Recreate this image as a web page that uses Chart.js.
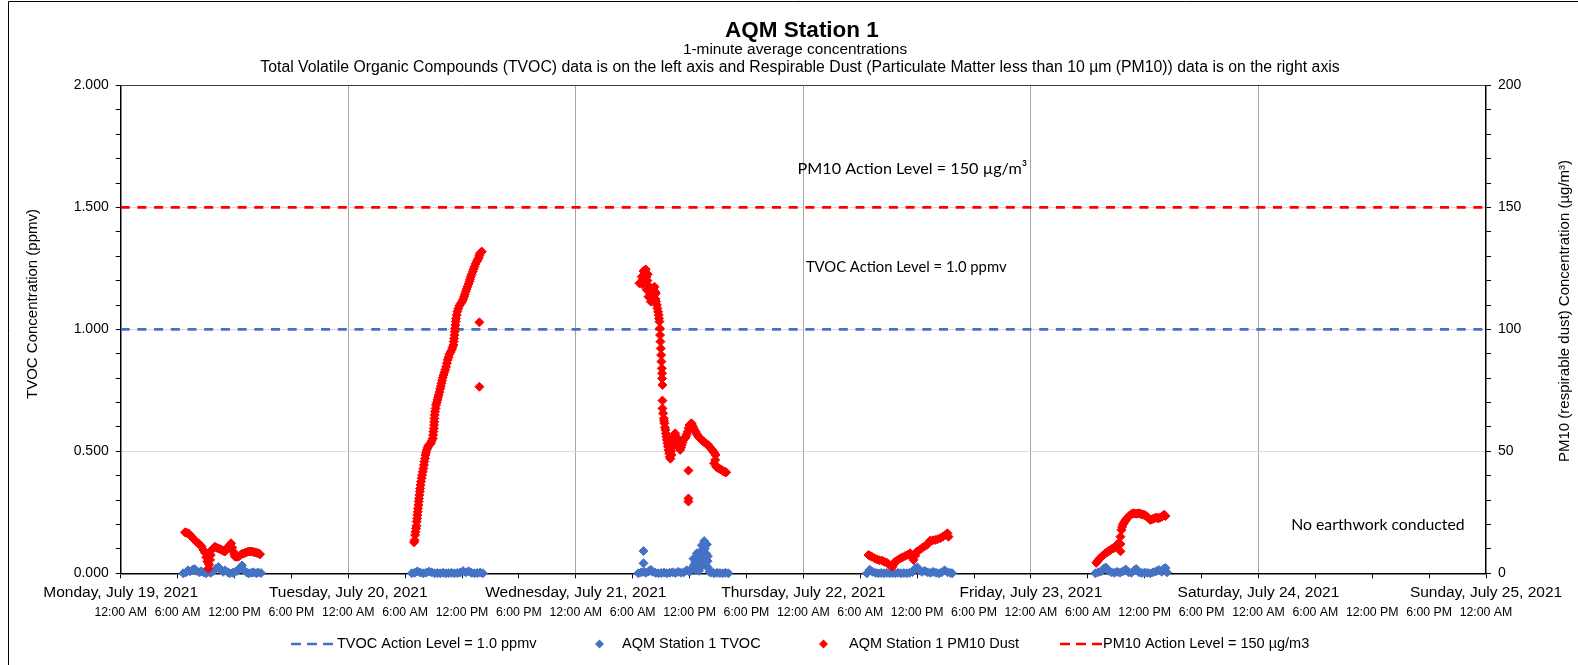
<!DOCTYPE html>
<html>
<head>
<meta charset="utf-8">
<title>AQM Station 1</title>
<script src="https://cdn.jsdelivr.net/npm/chart.js@4.4.1/dist/chart.umd.min.js"></script>
<style>
    html, body { margin: 0; padding: 0; background: #fff; }
    #wrap { position: relative; width: 1578px; height: 665px; }
</style>
</head>
<body>
<div id="wrap"><canvas id="aqmChart" width="1578" height="665"></canvas></div>
<script>
// x values are hours since Monday, July 19, 2021 12:00 AM
const dayLabels = ["Monday, July 19, 2021", "Tuesday, July 20, 2021", "Wednesday, July 21, 2021",
    "Thursday, July 22, 2021", "Friday, July 23, 2021", "Saturday, July 24, 2021", "Sunday, July 25, 2021"];
const hourLabels = ["12:00 AM", "6:00 AM", "12:00 PM", "6:00 PM"];

const tvocActionLevel = 1.0;   // ppmv, left axis
const pm10ActionLevel = 150;   // ug/m3, right axis

const tvocHours = [
    6.6, 6.9, 7.1, 7.3, 7.6, 7.8, 8.0, 8.3, 8.5, 8.8, 9.0, 9.3, 9.5, 9.8, 10.0, 10.3, 10.5, 10.8, 11.0, 11.3, 11.5, 11.8,
    12.0, 12.3, 12.5, 12.8, 13.0, 13.3, 13.5, 13.8, 14.0, 14.3, 14.5, 14.8,
    30.7, 31.0, 31.3, 31.6, 31.9, 32.2, 32.5, 32.8, 33.1, 33.4, 33.7, 34.0, 34.3, 34.6, 34.9, 35.2, 35.5, 35.8, 36.1,
    36.4, 36.7, 37.0, 37.3, 37.6, 37.9, 38.2,
    54.6, 54.9, 55.14, 55.14, 55.2, 55.4, 55.7, 55.9, 56.1, 56.4, 56.7, 57.0, 57.3, 57.6, 57.9, 58.2, 58.5, 58.8, 59.1,
    59.4, 59.7, 60.0, 60.2, 60.41, 60.5, 60.6, 60.6, 60.77, 60.9, 61.0, 61.0, 61.12, 61.2, 61.3, 61.3, 61.4, 61.45,
    61.54, 61.6, 61.6, 61.7, 61.75, 61.8, 61.82, 61.9, 61.93, 62.0, 62.1, 62.3, 62.6, 62.9, 63.2, 63.5, 63.8, 64.1,
    78.7, 79.0, 79.3, 79.6, 79.9, 80.2, 80.5, 80.8, 81.1, 81.4, 81.7, 82.0, 82.3, 82.6, 82.9, 83.2, 83.5, 83.8, 84.0,
    84.2, 84.5, 84.8, 85.1, 85.4, 85.7, 86.0, 86.3, 86.6, 86.9, 87.2, 87.5, 87.7,
    102.8, 103.1, 103.4, 103.7, 103.9, 104.2, 104.5, 104.8, 105.1, 105.4, 105.7, 106.0, 106.3, 106.6, 106.9, 107.1,
    107.4, 107.7, 108.0, 108.3, 108.6, 108.9, 109.2, 109.5, 109.8, 110.0, 110.2, 110.35
];
const tvocValues = [
    0, 0.004, 0.012, 0.008, 0.015, 0.017, 0.01, 0.004, 0.008, 0.003, 0, 0.006, 0.002, 0.01, 0.018, 0.026, 0.015, 0.006,
    0.012, 0.004, 0, 0.002, 0.004, 0.01, 0.02, 0.032, 0.012, 0.003, 0, 0.002, 0.004, 0, 0.003, 0.001,
    0, 0.002, 0.008, 0.003, 0, 0.002, 0.007, 0.004, 0, 0.001, 0, 0.002, 0, 0.001, 0.002, 0, 0.001, 0.003, 0.009,
    0.004, 0.008, 0.002, 0, 0.001, 0.003, 0,
    0, 0.004, 0.091, 0.041, 0.006, 0.002, 0.008, 0.015, 0.006, 0.002, 0, 0.001, 0.003, 0, 0.002, 0.004, 0.001, 0.006,
    0.002, 0.004, 0.012, 0.006, 0.02, 0.06, 0.035, 0.045, 0.015, 0.082, 0.05, 0.03, 0.01, 0.088, 0.06, 0.115, 0.03,
    0.075, 0.045, 0.132, 0.1, 0.04, 0.12, 0.08, 0.03, 0.118, 0.05, 0.07, 0.02, 0.005, 0.003, 0, 0.002, 0.001, 0, 0.002, 0,
    0, 0.015, 0.006, 0.002, 0, 0.001, 0, 0.002, 0, 0.001, 0, 0.002, 0, 0.001, 0, 0.002, 0.005, 0.02, 0.025,
    0.012, 0.006, 0.01, 0.004, 0.002, 0.006, 0.002, 0, 0.004, 0.012, 0.004, 0.002, 0,
    0, 0.004, 0.008, 0.02, 0.024, 0.01, 0.004, 0.002, 0.006, 0.002, 0.008, 0.016, 0.004, 0.002, 0.012, 0.018,
    0.004, 0.001, 0.003, 0.002, 0, 0.004, 0.008, 0.014, 0.006, 0.018, 0.022, 0.004
];

const pm10Hours = [
    // Monday
    6.78, 7.13, 7.49, 7.84, 8.19, 8.55, 8.89, 9.14, 9.24, 9.42, 9.60, 9.95, 10.30, 10.66, 11.00, 11.35, 11.64, 11.88,
    12.06, 12.41, 12.77, 13.11, 13.46, 13.82, 14.17, 14.52, 14.70,
    6.95, 7.30, 7.65, 8.00, 8.37, 8.72, 9.02, 9.33, 9.50, 9.78, 10.12, 10.48, 10.83, 11.18, 11.50, 11.76, 11.97,
    12.24, 12.60, 12.94, 13.28, 13.64, 14.00, 14.35, 14.60,
    // Tuesday
    30.94, 31.05, 31.15, 31.22, 31.29, 31.36, 31.43, 31.50, 31.58, 31.68, 31.79, 31.93, 32.03, 32.14, 32.28, 32.45,
    32.70, 32.91, 32.98, 33.05, 33.09, 33.16, 33.26, 33.40, 33.54, 33.69, 33.83, 33.97, 34.14, 34.32, 34.49, 34.67,
    34.92, 35.09, 35.16, 35.23, 35.30, 35.37, 35.51, 35.72, 36.01, 36.22, 36.39, 36.57, 36.78, 36.92, 37.13, 37.31,
    37.55, 37.76, 37.90, 38.08, 37.83, 37.83,
    31.00, 31.10, 31.20, 31.27, 31.33, 31.40, 31.47, 31.55, 31.63, 31.74, 31.86, 31.98, 32.09, 32.20, 32.36, 32.58,
    32.80, 32.95, 33.02, 33.07, 33.12, 33.21, 33.33, 33.47, 33.61, 33.76, 33.90, 34.05, 34.23, 34.40, 34.58, 34.80,
    35.00, 35.12, 35.20, 35.27, 35.34, 35.44, 35.60, 35.86, 36.12, 36.30, 36.48, 36.68, 36.85, 37.02, 37.22, 37.43,
    37.65, 37.83, 38.00,
    // Wednesday
    54.71, 54.96, 55.14, 55.38, 55.59, 55.31, 55.49, 55.66, 55.91, 56.12, 56.30, 56.44, 56.47, 56.61, 56.75, 56.82,
    56.86, 56.89, 56.93, 56.96, 57.00, 57.03, 57.07, 57.10, 57.10, 57.14, 57.14, 57.14, 57.21, 57.28, 57.35, 57.46,
    57.56, 57.67, 57.77, 57.91, 58.09, 58.20, 58.30, 58.48, 58.65, 58.83, 59.00, 59.18, 59.36, 59.60, 59.81, 59.99,
    60.20, 60.41, 60.62, 60.87, 61.11, 61.40, 61.68, 61.96, 62.24, 62.52, 62.73, 62.59, 62.80, 63.08, 63.37, 63.65,
    63.86, 59.88, 59.88, 59.88,
    55.00, 55.10, 55.20, 55.30, 55.45, 55.55, 55.65, 55.75, 55.85, 56.00, 56.05, 56.20, 56.25, 56.35, 56.40, 56.55,
    56.68, 56.78,
    57.30, 57.40, 57.50, 57.60, 57.72, 57.85, 57.98, 58.05, 58.15, 58.25, 58.40, 58.57, 58.74, 58.92, 59.10, 59.27,
    59.48, 59.70, 59.90, 60.10, 60.30, 60.50, 60.75, 61.00, 61.25, 61.55, 61.82, 62.10, 62.38, 62.63, 62.70, 62.94,
    63.22, 63.50, 63.75,
    // Thursday
    78.87, 79.23, 79.76, 80.28, 80.81, 81.23, 81.40, 81.69, 82.22, 82.74, 83.27, 83.62, 83.97, 84.50, 85.03, 85.38,
    85.91, 86.44, 86.96, 87.20, 87.31,
    79.05, 79.50, 80.00, 80.55, 81.00, 81.55, 81.95, 82.48, 83.00, 83.45, 83.80, 84.25, 84.75, 85.20, 85.65, 86.17, 86.70,
    // Friday
    102.9, 103.2, 103.5, 103.85, 104.1, 104.38, 104.65, 104.9, 105.1, 105.3, 105.45, 105.45, 105.55, 105.7, 105.9,
    106.1, 106.3, 106.5, 106.8, 107.1, 107.4, 107.7, 108.0, 108.3, 108.6, 108.9, 109.2, 109.5, 109.8, 110.05, 110.2,
    103.05, 103.35, 103.7, 104.0, 104.25, 104.5, 104.8, 105.0, 105.2, 105.45, 105.62, 105.8, 106.0, 106.2, 106.4,
    106.65, 106.95, 107.25, 107.55, 107.85, 108.15, 108.45, 108.75, 109.05, 109.35, 109.65, 109.95, 110.12
];
const pm10Values = [
    // Monday
    16.8, 16.4, 15.0, 13.4, 12.3, 10.9, 8.4, 4.8, 2.0, 5.5, 9.6, 10.9, 10.2, 9.6, 8.9, 10.9, 12.3, 8.9,
    6.8, 6.8, 7.9, 8.4, 8.9, 8.9, 8.6, 8.2, 7.8,
    16.6, 15.7, 14.2, 12.9, 11.6, 9.6, 6.6, 3.6, 7.5, 10.3, 10.5, 9.9, 9.2, 9.9, 11.6, 10.6, 7.8,
    6.8, 7.4, 8.1, 8.6, 8.9, 8.7, 8.4, 8.0,
    // Tuesday
    12.7, 15.7, 18.4, 21.2, 23.9, 26.6, 29.4, 32.1, 34.8, 37.6, 40.3, 43.0, 45.8, 48.5, 50.6, 52.3,
    53.3, 55.3, 58.1, 60.8, 63.5, 66.3, 69.0, 71.1, 73.1, 75.6, 77.9, 80.2, 82.4, 84.7, 87.5, 89.8,
    91.6, 93.6, 96.3, 99.1, 101.8, 104.5, 107.3, 109.7, 111.4, 113.4, 115.5, 117.5, 119.6, 121.6, 123.7, 125.7,
    127.8, 129.4, 131.2, 131.9, 102.9, 76.5,
    13.5, 17.0, 19.5, 22.5, 25.2, 28.0, 30.7, 33.5, 36.2, 39.0, 41.6, 44.4, 47.1, 49.5, 51.5, 52.8,
    54.2, 56.7, 59.4, 62.1, 64.9, 67.6, 70.0, 72.1, 74.3, 76.7, 79.0, 81.3, 83.5, 86.1, 88.6, 90.7,
    92.6, 95.0, 97.7, 100.4, 103.2, 105.9, 108.5, 110.6, 112.4, 114.4, 116.5, 118.6, 120.6, 122.6, 124.7, 126.8,
    128.6, 130.3, 131.5,
    // Wednesday
    118.9, 121.6, 123.9, 124.6, 122.6, 119.6, 116.2, 113.4, 111.4, 114.8, 117.5, 114.8, 111.4, 108.6, 105.9, 103.2,
    100.4, 97.7, 95.0, 92.2, 89.5, 86.8, 84.0, 82.0, 79.9, 77.2, 70.8, 67.6, 65.6, 63.5, 61.5, 58.8,
    56.0, 53.3, 50.6, 47.8, 48.5, 51.9, 56.0, 57.4, 55.3, 52.6, 50.6, 52.6, 54.7, 56.0, 58.1, 60.8,
    61.5, 59.7, 58.1, 56.4, 55.3, 54.2, 53.3, 52.6, 51.2, 49.9, 48.5, 45.1, 43.7, 43.0, 42.4, 41.7,
    41.4, 42.1, 30.7, 29.4,
    118.5, 120.5, 122.0, 123.0, 121.5, 120.0, 118.0, 116.5, 114.5, 113.0, 116.5, 117.0, 114.0, 115.5, 112.5, 110.0,
    107.2, 104.5,
    62.5, 59.8, 57.3, 54.7, 52.0, 49.2, 47.0, 50.0, 53.5, 54.5, 56.5, 56.2, 54.0, 51.5, 51.6, 53.7,
    55.3, 57.0, 59.5, 61.2, 60.6, 58.9, 57.2, 55.8, 54.7, 53.8, 52.9, 51.9, 50.6, 49.2, 46.5, 43.3,
    42.7, 42.0, 41.5,
    // Thursday
    7.5, 6.8, 5.7, 5.2, 4.3, 3.1, 2.7, 4.8, 6.1, 7.1, 8.2, 5.5, 8.9, 10.3, 11.6, 13.4,
    13.7, 14.4, 15.7, 16.4, 15.0,
    7.1, 6.2, 5.4, 4.7, 3.7, 3.8, 5.4, 6.6, 7.6, 6.8, 7.2, 9.6, 11.0, 12.5, 13.5, 14.0, 15.0,
    // Friday
    4.3, 5.8, 7.0, 8.2, 8.9, 9.6, 10.2, 10.9, 11.8, 12.5, 9.0, 15.0, 17.8, 20.0, 21.3,
    22.3, 23.2, 24.0, 24.6, 24.4, 24.6, 24.2, 23.9, 23.0, 21.9, 22.4, 22.8, 22.6, 23.2, 24.0, 23.5,
    5.0, 6.4, 7.6, 8.5, 9.2, 9.9, 10.5, 11.3, 12.1, 12.0, 19.0, 20.6, 21.8, 22.8, 23.6,
    24.3, 24.5, 24.5, 24.4, 24.0, 23.5, 22.4, 22.1, 22.6, 22.7, 22.9, 23.6, 23.8
];

// text boxes placed in data units: hours and ug/m3 on the right axis
const noteTexts = ["PM10 Action Level = 150 µg/m³", "TVOC Action Level = 1.0 ppmv", "No earthwork conducted"];
const noteHours = [83.5, 82.85, 132.6];
const notePm10 = [165.8, 125.6, 19.8];
const noteFontSizes = [16.2, 14.8, 15.8];

const BLUE = "#4472C4";
const RED = "#FF0000";
const ARIAL = "'Liberation Sans', Arial, sans-serif";
const CALIBRI = "Lato, 'Open Sans', sans-serif";

const toPoints = (xs, ys) => xs.map((x, i) => ({ x, y: ys[i] }));
const isMultiple = (v, step) => Math.abs(v / step - Math.round(v / step)) < 1e-6;

const overlayPlugin = {
    id: "overlay",
    afterDraw(chart) {
        const ctx = chart.ctx;
        const xScale = chart.scales.x;
        const pmScale = chart.scales.y1;
        ctx.save();
        // outer frame
        ctx.strokeStyle = "#000";
        ctx.lineWidth = 1;
        ctx.beginPath();
        ctx.moveTo(8.5, 665);
        ctx.lineTo(8.5, 1.5);
        ctx.lineTo(1578, 1.5);
        ctx.stroke();

        // titles
        ctx.fillStyle = "#000";
        ctx.textAlign = "center";
        ctx.textBaseline = "middle";
        ctx.font = "bold 22.5px " + ARIAL;
        ctx.fillText("AQM Station 1", 802, 30.5);
        ctx.font = "15.4px " + ARIAL;
        ctx.fillText("1-minute average concentrations", 795, 50);
        ctx.font = "15.8px " + ARIAL;
        ctx.fillText("Total Volatile Organic Compounds (TVOC) data is on the left axis and Respirable Dust (Particulate Matter less than 10 µm (PM10)) data is on the right axis", 800, 68);

        // axis titles
        ctx.font = "15px " + ARIAL;
        ctx.save();
        ctx.translate(33, 304);
        ctx.rotate(-Math.PI / 2);
        ctx.fillText("TVOC Concentration (ppmv)", 0, 0);
        ctx.restore();
        ctx.save();
        ctx.translate(1565, 311);
        ctx.rotate(-Math.PI / 2);
        ctx.fillText("PM10 (respirable dust) Concentration (µg/m³)", 0, 0);
        ctx.restore();

        // text boxes
        noteTexts.forEach((t, i) => {
            ctx.font = noteFontSizes[i] + "px " + CALIBRI;
            ctx.fillText(t, xScale.getPixelForValue(noteHours[i]), pmScale.getPixelForValue(notePm10[i]));
        });

        // legend
        const ds = chart.data.datasets;
        const legendY = 644;
        ctx.font = "14.5px " + ARIAL;
        ctx.textAlign = "left";
        const legendItems = [
            { d: ds[3], kind: "line", x0: 291, x1: 335, tx: 337 },
            { d: ds[1], kind: "point", cx: 599.5, tx: 622 },
            { d: ds[0], kind: "point", cx: 823.5, tx: 849 },
            { d: ds[2], kind: "line", x0: 1060, x1: 1102, tx: 1103 }
        ];
        legendItems.forEach(item => {
            if (item.kind === "line") {
                ctx.save();
                ctx.strokeStyle = item.d.borderColor;
                ctx.lineWidth = 2.5;
                ctx.setLineDash([10, 6]);
                ctx.beginPath();
                ctx.moveTo(item.x0, legendY);
                ctx.lineTo(item.x1, legendY);
                ctx.stroke();
                ctx.restore();
            } else {
                ctx.fillStyle = item.d.backgroundColor;
                ctx.beginPath();
                ctx.moveTo(item.cx, legendY - 4.5);
                ctx.lineTo(item.cx + 4.5, legendY);
                ctx.lineTo(item.cx, legendY + 4.5);
                ctx.lineTo(item.cx - 4.5, legendY);
                ctx.closePath();
                ctx.fill();
            }
            ctx.fillStyle = "#000";
            ctx.fillText(item.d.label, item.tx, legendY);
        });
        ctx.restore();
    }
};

Chart.defaults.font.family = ARIAL;
Chart.defaults.color = "#000";

const aqmChart = new Chart(document.getElementById("aqmChart"), {
    type: "scatter",
    data: {
        datasets: [
            {
                label: "AQM Station 1 PM10 Dust",
                data: toPoints(pm10Hours, pm10Values),
                yAxisID: "y1",
                xAxisID: "x",
                pointStyle: "rectRot",
                pointRadius: 4.5,
                borderWidth: 1,
                backgroundColor: RED,
                borderColor: RED,
                clip: false,
                order: 0
            },
            {
                label: "AQM Station 1 TVOC",
                data: toPoints(tvocHours, tvocValues),
                yAxisID: "y",
                xAxisID: "x",
                pointStyle: "rectRot",
                pointRadius: 4.5,
                borderWidth: 1,
                backgroundColor: BLUE,
                borderColor: BLUE,
                clip: false,
                order: 1
            },
            {
                label: "PM10 Action Level = 150 µg/m3",
                data: [{ x: 0, y: pm10ActionLevel }, { x: 144, y: pm10ActionLevel }],
                yAxisID: "y1",
                xAxisID: "x",
                showLine: true,
                pointRadius: 0,
                borderColor: RED,
                backgroundColor: RED,
                borderWidth: 2.75,
                borderDash: [9, 7.7],
                order: 2
            },
            {
                label: "TVOC Action Level = 1.0 ppmv",
                data: [{ x: 0, y: tvocActionLevel }, { x: 144, y: tvocActionLevel }],
                yAxisID: "y",
                xAxisID: "x",
                showLine: true,
                pointRadius: 0,
                borderColor: BLUE,
                backgroundColor: BLUE,
                borderWidth: 2.75,
                borderDash: [9, 7.7],
                order: 3
            }
        ]
    },
    options: {
        responsive: false,
        animation: false,
        events: [],
        layout: { padding: { top: 85.5, bottom: 39.7, left: 0, right: 0 } },
        plugins: {
            legend: { display: false },
            tooltip: { enabled: false }
        },
        scales: {
            x: {
                type: "linear",
                position: "bottom",
                weight: 0,
                min: 0,
                max: 144,
                afterFit(scale) { scale.height = 30; },
                border: { color: "#000", width: 1.5 },
                grid: {
                    color: (c) => (c.tick && isMultiple(c.tick.value, 24) && c.tick.value > 0 && c.tick.value < 144) ? "#a6a6a6" : "rgba(0,0,0,0)",
                    tickColor: "#000",
                    tickLength: 5,
                    lineWidth: 1
                },
                ticks: {
                    stepSize: 6,
                    maxTicksLimit: 100,
                    autoSkip: false,
                    maxRotation: 0,
                    padding: 5,
                    font: { size: 15.5 },
                    callback: (v) => isMultiple(v, 24) ? dayLabels[Math.round(v / 24)] : ""
                }
            },
            xh: {
                type: "linear",
                axis: "x",
                position: "bottom",
                weight: 1,
                min: 0,
                max: 144,
                afterFit(scale) { scale.height = 22; },
                border: { display: false },
                grid: { display: false, drawTicks: false },
                ticks: {
                    stepSize: 6,
                    maxTicksLimit: 100,
                    autoSkip: false,
                    maxRotation: 0,
                    padding: 2,
                    font: { size: 12.3 },
                    callback: (v) => hourLabels[Math.round((v % 24) / 6)]
                }
            },
            y: {
                type: "linear",
                position: "left",
                min: 0,
                max: 2,
                afterFit(scale) { scale.width = 120.7; },
                border: { color: "#000", width: 1.5 },
                grid: {
                    color: (c) => {
                        const v = c.tick ? c.tick.value : 0;
                        if (v > 1.99) return "#404040";
                        if (isMultiple(v, 0.5) && v > 0) return "#d9d9d9";
                        return "rgba(0,0,0,0)";
                    },
                    tickColor: "#000",
                    tickLength: 5,
                    lineWidth: 1
                },
                ticks: {
                    stepSize: 0.1,
                    maxTicksLimit: 100,
                    autoSkip: false,
                    padding: 7,
                    font: { size: 14 },
                    callback: (v) => isMultiple(v, 0.5) ? v.toFixed(3) : ""
                }
            },
            y1: {
                type: "linear",
                position: "right",
                min: 0,
                max: 200,
                afterFit(scale) { scale.width = 92; },
                border: { color: "#000", width: 1.5 },
                grid: {
                    drawOnChartArea: false,
                    tickColor: "#000",
                    tickLength: 5
                },
                ticks: {
                    stepSize: 10,
                    maxTicksLimit: 100,
                    autoSkip: false,
                    padding: 7,
                    font: { size: 14 },
                    callback: (v) => isMultiple(v, 50) ? String(v) : ""
                }
            }
        }
    },
    plugins: [overlayPlugin]
});
</script>
</body>
</html>
